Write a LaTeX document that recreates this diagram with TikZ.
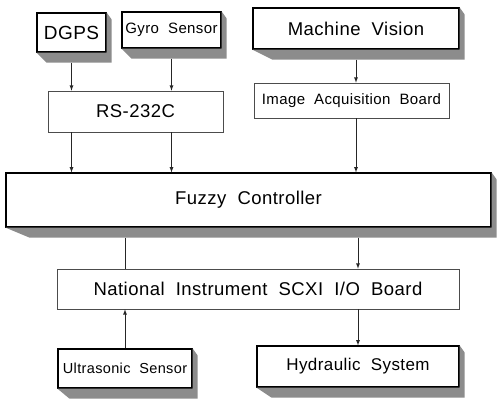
\documentclass[tikz,border=0pt]{standalone}
\usepackage{fontspec}
\setmainfont{Liberation Sans}[WordSpace=2.0,LetterSpace=2.5]
\usetikzlibrary{calc}

\begin{document}
\begin{tikzpicture}[
    x=1pt, y=1pt,
    >=latex,
    block/.style={draw, fill=white, inner sep=0pt},
    solid block/.style={block, line width=1.2pt, draw=black},
    thin block/.style={block, line width=0.7pt, draw=black!70},
    shade/.style={fill=black!45},
    every edge/.append style={line width=0.8pt, draw=black!85}
]
   \useasboundingbox (0,0) rectangle (499,399);

   % Blocks
   \node[solid block, minimum width=69pt, minimum height=39pt, font=\fontsize{19}{20}\selectfont] (dgps) at (71.5,366.5) {DGPS};
   \node[solid block, minimum width=99pt, minimum height=36pt, font=\fontsize{15}{16}\selectfont] (gyro) at (171.5,369) {Gyro Sensor};
   \node[solid block, minimum width=206pt, minimum height=41pt, font=\fontsize{18.5}{20}\selectfont] (mv) at (356,370.5) {Machine Vision};
   \node[thin block, minimum width=175pt, minimum height=41pt, font=\fontsize{18.5}{20}\selectfont] (rs) at (135.5,287.5) {RS-232C};
   \node[thin block, minimum width=195pt, minimum height=35pt, font=\fontsize{15}{16}\selectfont] (iab) at (351.5,298.5) {Image Acquisition Board};
   \node[solid block, minimum width=485pt, minimum height=54pt, font=\fontsize{18.5}{20}\selectfont] (fuzzy) at (248.5,199) {Fuzzy Controller};
   \node[thin block, minimum width=402pt, minimum height=40pt, font=\fontsize{18.5}{20}\selectfont] (ni) at (258,110) {National Instrument SCXI I/O Board};
   \node[solid block, minimum width=134pt, minimum height=39pt, font=\fontsize{14.5}{16}\selectfont] (us) at (125,30.5) {Ultrasonic Sensor};
   \node[solid block, minimum width=202pt, minimum height=41pt, font=\fontsize{17}{18}\selectfont] (hyd) at (358,32.5) {Hydraulic System};

   % Shadows
   \foreach \n/\dx in {dgps/10, gyro/10, mv/20, fuzzy/24, us/12, hyd/15}
      \fill[shade] (\n.south west) -- ++(\dx,-10) -- ($(\n.south east)+(5,-10)$)
         -- ($(\n.north east)+(5,-7)$) -- (\n.north east) -- (\n.south east) -- cycle;

   % Connections
   \path[->]
   ([yshift=-10pt]dgps.south) edge (dgps.south |- rs.north)
   ([yshift=-10pt]gyro.south) edge (gyro.south |- rs.north)
   ([yshift=-10pt]mv.south) edge (mv.south |- iab.north)
   (rs.south -| dgps) edge (fuzzy.north -| dgps)
   (rs.south -| gyro) edge (fuzzy.north -| gyro)
   (iab.south -| mv) edge (fuzzy.north -| mv)
   ([yshift=-10pt]fuzzy.south -| us) edge[-] (ni.north -| us)
   ([yshift=-10pt]fuzzy.south -| hyd) edge (ni.north -| hyd)
   (us.north) edge (ni.south -| us)
   (ni.south -| hyd) edge (hyd.north);
\end{tikzpicture}
\end{document}
